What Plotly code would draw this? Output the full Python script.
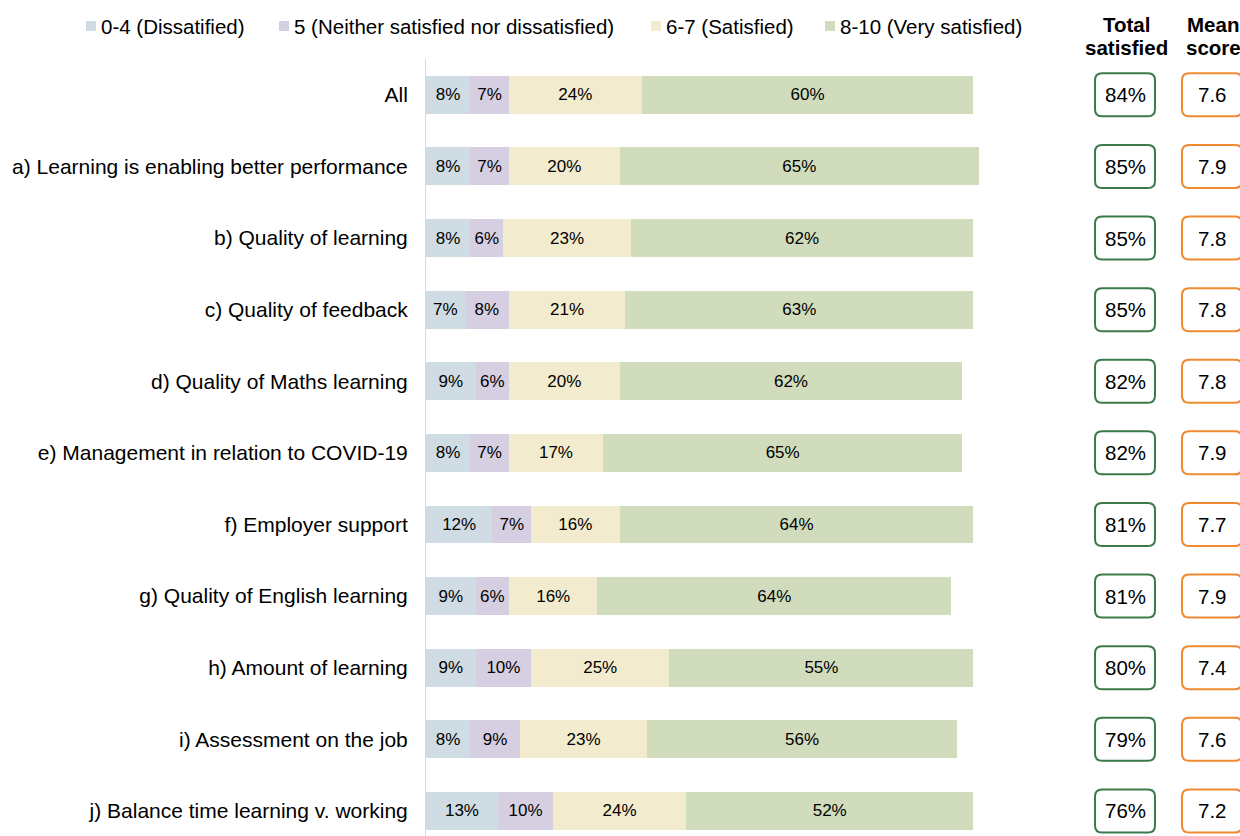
import plotly.graph_objects as go

categories = ["All", "a) Learning is enabling better performance", "b) Quality of learning",
              "c) Quality of feedback", "d) Quality of Maths learning",
              "e) Management in relation to COVID-19", "f) Employer support",
              "g) Quality of English learning", "h) Amount of learning",
              "i) Assessment on the job", "j) Balance time learning v. working"]
dissatisfied = [8, 8, 8, 7, 9, 8, 12, 9, 9, 8, 13]
neither = [7, 7, 6, 8, 6, 7, 7, 6, 10, 9, 10]
satisfied = [24, 20, 23, 21, 20, 17, 16, 16, 25, 23, 24]
very_satisfied = [60, 65, 62, 63, 62, 65, 64, 64, 55, 56, 52]
total_satisfied = ["84%", "85%", "85%", "85%", "82%", "82%", "81%", "81%", "80%", "79%", "76%"]
mean_score = ["7.6", "7.9", "7.8", "7.8", "7.8", "7.9", "7.7", "7.9", "7.4", "7.6", "7.2"]
series_names = ["0-4 (Dissatified)", "5 (Neither satisfied nor dissatisfied)",
                "6-7 (Satisfied)", "8-10 (Very satisfied)"]

series_vals = [dissatisfied, neither, satisfied, very_satisfied]
series_cols = ["#cfdce4", "#d6cfe1", "#f2ebcd", "#d0dcbc"]

W, H = 1240, 836
TOP = 59
FONT = "Liberation Sans, Arial, sans-serif"

fig = go.Figure()
for name, vals, col in zip(series_names, series_vals, series_cols):
    fig.add_trace(go.Bar(
        y=list(range(len(categories))), x=vals, name=name, orientation="h",
        marker=dict(color=col, line=dict(width=0)),
        text=[f"{v}%" for v in vals], textposition="inside",
        insidetextanchor="middle", textangle=0,
        textfont=dict(size=17, color="#000000", family=FONT),
        width=0.53, hoverinfo="skip", showlegend=False,
    ))

y_lo, y_hi = 10.35, -0.5
plot_h = H - TOP
px_per_unit = plot_h / (y_lo - y_hi)

def row_px(i):
    return TOP + (i - y_hi) * px_per_unit

def xp(px):
    return px / W

def yp(px):
    return (H - px) / plot_h

def rounded_rect(x0, x1, y0, y1, r=7):
    return (f"M {xp(x0 + r)} {yp(y0)} L {xp(x1 - r)} {yp(y0)} "
            f"Q {xp(x1)} {yp(y0)} {xp(x1)} {yp(y0 + r)} "
            f"L {xp(x1)} {yp(y1 - r)} Q {xp(x1)} {yp(y1)} {xp(x1 - r)} {yp(y1)} "
            f"L {xp(x0 + r)} {yp(y1)} Q {xp(x0)} {yp(y1)} {xp(x0)} {yp(y1 - r)} "
            f"L {xp(x0)} {yp(y0 + r)} Q {xp(x0)} {yp(y0)} {xp(x0 + r)} {yp(y0)} Z")

shapes = []
annotations = []
box_cols = [(1125, "#3c7a4b", total_satisfied), (1212, "#f08a30", mean_score)]
for i in range(len(categories)):
    cy = row_px(i)
    for cx, col, vals in box_cols:
        shapes.append(dict(type="path", xref="paper", yref="paper",
                           path=rounded_rect(cx - 30, cx + 30, cy - 21.5, cy + 21.5),
                           line=dict(color=col, width=2), fillcolor="rgba(0,0,0,0)"))
        annotations.append(dict(xref="paper", yref="paper", x=xp(cx), y=yp(cy),
                                text=vals[i], showarrow=False,
                                font=dict(size=20.5, color="#000000", family=FONT),
                                xanchor="center", yanchor="middle"))

for cx, lines in [(1126, ["Total", "satisfied"]), (1213, ["Mean", "score"])]:
    for k, t in enumerate(lines):
        annotations.append(dict(xref="paper", yref="paper", x=xp(cx), y=yp(24 + 24 * k),
                                text=f"<b>{t}</b>", showarrow=False,
                                font=dict(size=20.5, color="#000000", family=FONT),
                                xanchor="center", yanchor="middle"))

# manual legend
legend_marker_px = [86, 279, 651, 825]
for name, col, mx in zip(series_names, series_cols, legend_marker_px):
    shapes.append(dict(type="rect", xref="paper", yref="paper",
                       x0=xp(mx), x1=xp(mx + 10), y0=yp(21), y1=yp(31),
                       fillcolor=col, line=dict(width=0)))
    annotations.append(dict(xref="paper", yref="paper", x=xp(mx + 13), y=yp(26),
                            text=name, showarrow=False, xanchor="left", yanchor="middle",
                            font=dict(size=20.5, color="#000000", family=FONT)))

fig.update_layout(
    width=W, height=H,
    barmode="stack",
    plot_bgcolor="white", paper_bgcolor="white",
    margin=dict(l=0, r=0, t=TOP, b=0, pad=0),
    font=dict(family=FONT, size=21, color="#000000"),
    xaxis=dict(domain=[426 / W, 979 / W], range=[0, 100], showgrid=False,
               zeroline=False, showticklabels=False, showline=False, fixedrange=True),
    yaxis=dict(range=[y_lo, y_hi], tickmode="array",
               tickvals=list(range(len(categories))), ticktext=categories,
               showgrid=False, zeroline=False, showline=True, linecolor="#d9d9d9",
               linewidth=1, ticks="", ticklabelstandoff=13,
               tickfont=dict(size=21, family=FONT, color="#000000")),
    uniformtext=dict(minsize=17, mode="show"),
    shapes=shapes, annotations=annotations,
    showlegend=False,
)

fig.write_html("out.html", config={"displayModeBar": False},
               post_script="document.body.style.margin='0';")
